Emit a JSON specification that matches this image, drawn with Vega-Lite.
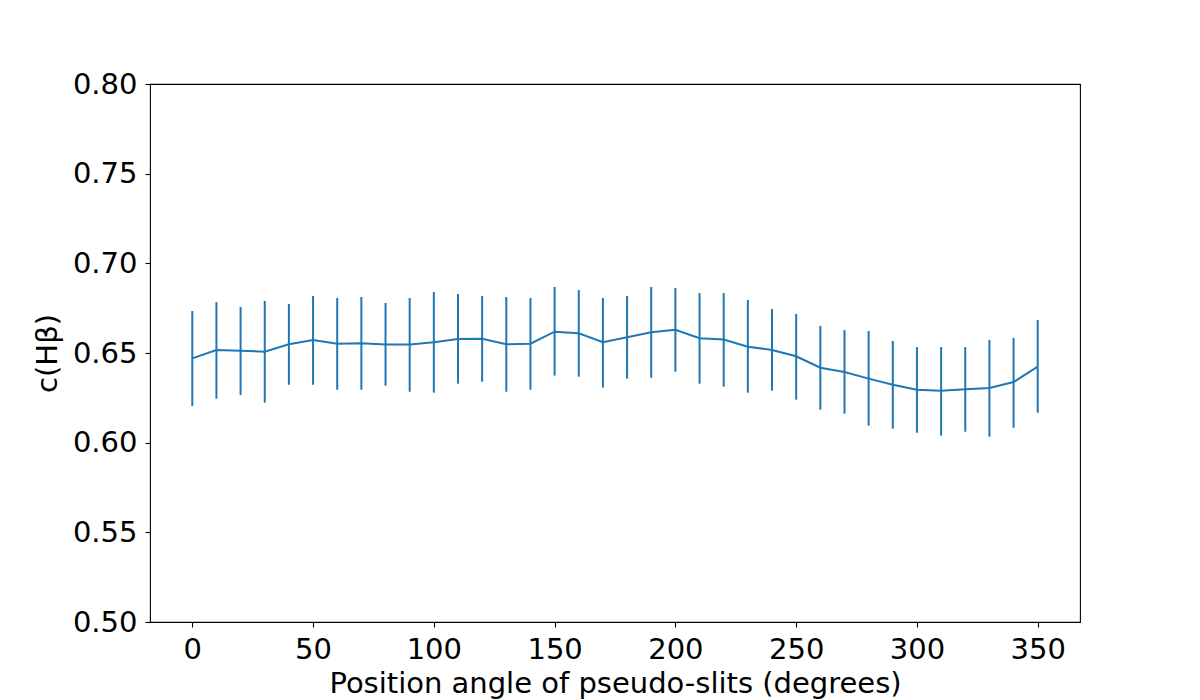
{
  "$schema": "https://vega.github.io/schema/vega-lite/v6.json",
  "autosize": {"type": "none"},
  "padding": {"left": 150, "top": 84, "right": 120, "bottom": 78},
  "width": 930,
  "height": 538,
  "background": "white",
  "config": {
    "view": {"stroke": "black", "strokeWidth": 1.1},
    "font": "DejaVu Sans",
    "axis": {
      "domain": false,
      "grid": false,
      "ticks": true,
      "tickColor": "black",
      "tickSize": 5,
      "tickWidth": 1.1,
      "labelFont": "DejaVu Sans",
      "labelFontSize": 29,
      "labelColor": "black",
      "labelPadding": 8,
      "titleFont": "DejaVu Sans",
      "titleFontSize": 29,
      "titleFontWeight": "normal",
      "titleColor": "black"
    }
  },
  "data": {
    "values": [
      {"angle": 0, "c": 0.6470, "lo": 0.6205, "hi": 0.6734},
      {"angle": 10, "c": 0.6517, "lo": 0.6245, "hi": 0.6784},
      {"angle": 20, "c": 0.6513, "lo": 0.6266, "hi": 0.6757},
      {"angle": 30, "c": 0.6507, "lo": 0.6223, "hi": 0.6790},
      {"angle": 40, "c": 0.6549, "lo": 0.6323, "hi": 0.6773},
      {"angle": 50, "c": 0.6573, "lo": 0.6323, "hi": 0.6818},
      {"angle": 60, "c": 0.6552, "lo": 0.6295, "hi": 0.6807},
      {"angle": 70, "c": 0.6554, "lo": 0.6295, "hi": 0.6812},
      {"angle": 80, "c": 0.6547, "lo": 0.6318, "hi": 0.6779},
      {"angle": 90, "c": 0.6547, "lo": 0.6284, "hi": 0.6807},
      {"angle": 100, "c": 0.6560, "lo": 0.6279, "hi": 0.6840},
      {"angle": 110, "c": 0.6578, "lo": 0.6329, "hi": 0.6829},
      {"angle": 120, "c": 0.6580, "lo": 0.6340, "hi": 0.6818},
      {"angle": 130, "c": 0.6549, "lo": 0.6284, "hi": 0.6812},
      {"angle": 140, "c": 0.6552, "lo": 0.6295, "hi": 0.6807},
      {"angle": 150, "c": 0.6619, "lo": 0.6374, "hi": 0.6868},
      {"angle": 160, "c": 0.6610, "lo": 0.6368, "hi": 0.6851},
      {"angle": 170, "c": 0.6560, "lo": 0.6307, "hi": 0.6807},
      {"angle": 180, "c": 0.6588, "lo": 0.6357, "hi": 0.6818},
      {"angle": 190, "c": 0.6616, "lo": 0.6362, "hi": 0.6868},
      {"angle": 200, "c": 0.6630, "lo": 0.6396, "hi": 0.6862},
      {"angle": 210, "c": 0.6582, "lo": 0.6329, "hi": 0.6834},
      {"angle": 220, "c": 0.6575, "lo": 0.6312, "hi": 0.6834},
      {"angle": 230, "c": 0.6535, "lo": 0.6279, "hi": 0.6796},
      {"angle": 240, "c": 0.6517, "lo": 0.6290, "hi": 0.6745},
      {"angle": 250, "c": 0.6482, "lo": 0.6240, "hi": 0.6718},
      {"angle": 260, "c": 0.6418, "lo": 0.6184, "hi": 0.6651},
      {"angle": 270, "c": 0.6394, "lo": 0.6162, "hi": 0.6628},
      {"angle": 280, "c": 0.6357, "lo": 0.6095, "hi": 0.6623},
      {"angle": 290, "c": 0.6323, "lo": 0.6078, "hi": 0.6567},
      {"angle": 300, "c": 0.6295, "lo": 0.6055, "hi": 0.6533},
      {"angle": 310, "c": 0.6290, "lo": 0.6039, "hi": 0.6533},
      {"angle": 320, "c": 0.6298, "lo": 0.6061, "hi": 0.6533},
      {"angle": 330, "c": 0.6305, "lo": 0.6033, "hi": 0.6573},
      {"angle": 340, "c": 0.6338, "lo": 0.6083, "hi": 0.6584},
      {"angle": 350, "c": 0.6424, "lo": 0.6167, "hi": 0.6684}
    ]
  },
  "encoding": {
    "x": {
      "field": "angle",
      "type": "quantitative",
      "scale": {"domain": [-17.5, 367.5], "nice": false, "zero": false},
      "axis": {"values": [0, 50, 100, 150, 200, 250, 300, 350], "title": "Position angle of pseudo-slits (degrees)", "titlePadding": 5}
    }
  },
  "layer": [
    {
      "mark": {"type": "rule", "color": "#1f77b4", "strokeWidth": 2},
      "encoding": {
        "y": {"field": "lo", "type": "quantitative", "scale": {"domain": [0.5, 0.8], "nice": false, "zero": false}},
        "y2": {"field": "hi"}
      }
    },
    {
      "mark": {"type": "line", "color": "#1f77b4", "strokeWidth": 2},
      "encoding": {
        "y": {
          "field": "c",
          "type": "quantitative",
          "scale": {"domain": [0.5, 0.8], "nice": false, "zero": false},
          "axis": {"values": [0.5, 0.55, 0.6, 0.65, 0.7, 0.75, 0.8], "format": ".2f", "title": "c(Hβ)", "titlePadding": 10}
        }
      }
    }
  ]
}
